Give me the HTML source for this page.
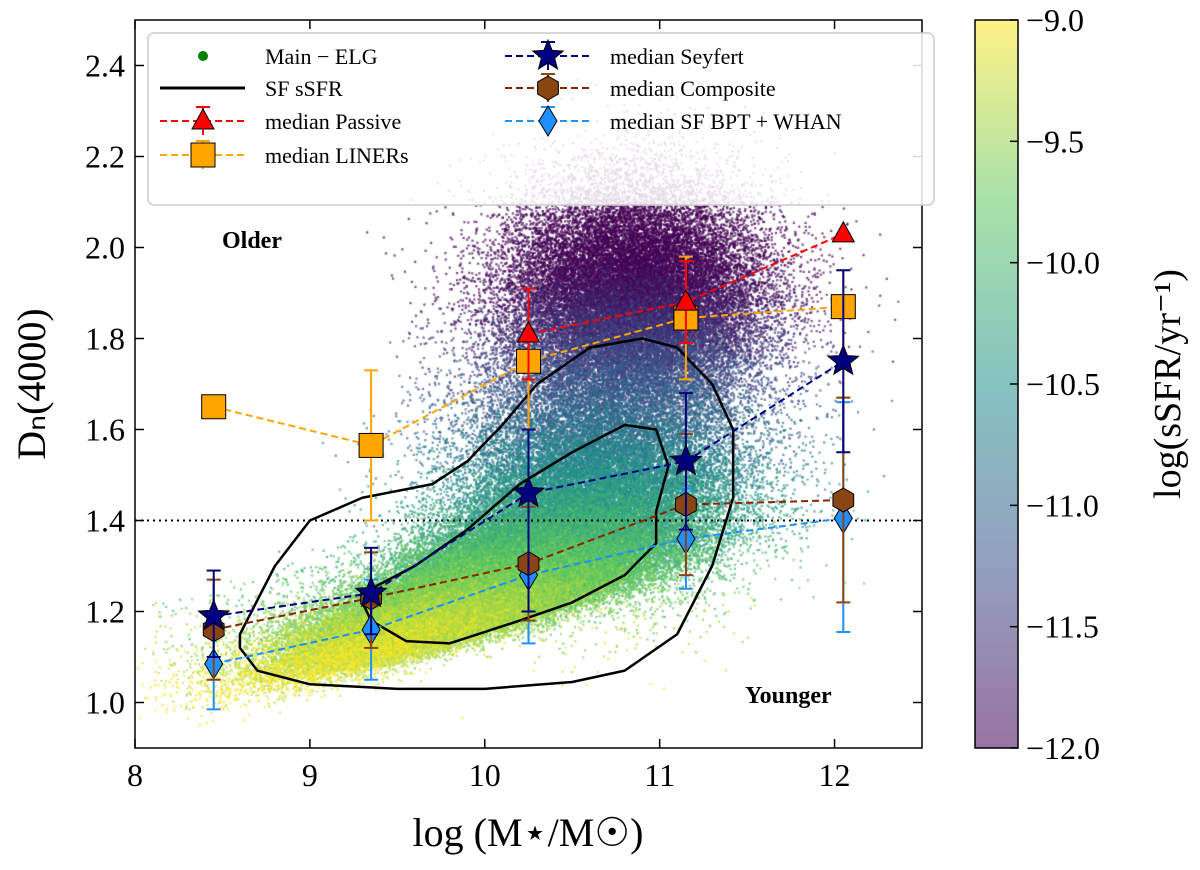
<!DOCTYPE html>
<html><head><meta charset="utf-8">
<style>
html,body{margin:0;padding:0;background:#fff;}
#wrap{position:relative;width:1200px;height:870px;font-family:"Liberation Serif",serif;}
canvas,svg{position:absolute;left:0;top:0;}
</style></head>
<body>
<div id="wrap">
<canvas id="cv" width="1200" height="870"></canvas>
<svg id="sv" width="1200" height="870"></svg>
</div>
<script>
const xs=[8.45,9.35,10.25,11.15,12.05];
const passiveX=[10.25,11.15,12.05];
const passiveY=[1.81,1.88,2.03];
const passiveLo=[1.71,1.79,2.03];
const passiveHi=[1.91,1.97,2.03];
const linerY=[1.65,1.565,1.75,1.845,1.87];
const linerLo=[1.65,1.40,1.60,1.71,1.67];
const linerHi=[1.65,1.73,1.91,1.98,1.95];
const seyY=[1.19,1.24,1.46,1.53,1.75];
const seyLo=[1.10,1.15,1.20,1.38,1.55];
const seyHi=[1.29,1.34,1.60,1.68,1.95];
const compY=[1.16,1.23,1.305,1.435,1.445];
const compLo=[1.05,1.12,1.18,1.28,1.22];
const compHi=[1.27,1.33,1.43,1.59,1.67];
const sfY=[1.085,1.16,1.28,1.36,1.405];
const sfLo=[0.985,1.05,1.13,1.25,1.155];
const sfHi=[1.19,1.27,1.43,1.47,1.66];
const xTicks=[8,9,10,11,12];
const yTicks=[1.0,1.2,1.4,1.6,1.8,2.0,2.2,2.4];
const cTicks=[-9.0,-9.5,-10.0,-10.5,-11.0,-11.5,-12.0];
const outerC=[[8.6,1.15],[8.8,1.3],[9.0,1.4],[9.3,1.45],[9.7,1.48],[9.9,1.53],[10.1,1.61],[10.3,1.7],[10.6,1.78],[10.9,1.80],[11.1,1.78],[11.3,1.70],[11.42,1.6],[11.42,1.45],[11.3,1.3],[11.1,1.15],[10.8,1.07],[10.5,1.045],[10,1.03],[9.5,1.03],[9,1.04],[8.7,1.07],[8.6,1.12]];
const innerC=[[9.3,1.24],[9.6,1.30],[9.9,1.38],[10.2,1.48],[10.5,1.55],[10.8,1.61],[10.98,1.60],[11.05,1.52],[10.98,1.42],[10.98,1.35],[10.8,1.28],[10.5,1.22],[10.2,1.18],[9.8,1.13],[9.55,1.135],[9.35,1.18],[9.3,1.22]];

const L=135,R=922,T=20,B=748;
const X=v=>L+(v-8)/(12.5-8)*(R-L);
const Y=v=>B-(v-0.9)/(2.5-0.9)*(B-T);
const NS='http://www.w3.org/2000/svg';
const sv=document.getElementById('sv');
function el(t,a,p){const e=document.createElementNS(NS,t);for(const k in a)e.setAttribute(k,a[k]);(p||sv).appendChild(e);return e;}
function vir(t){const s=[[68,1,84],[59,82,139],[33,145,140],[94,201,98],[253,231,37]];t=Math.max(0,Math.min(1,t))*4;const i=Math.min(3,Math.floor(t)),f=t-i;return s[i].map((c,j)=>Math.round(c+(s[i+1][j]-c)*f));}

const cv=document.getElementById('cv').getContext('2d');
let seed=7;function rnd(){seed=(seed*16807)%2147483647;return seed/2147483647;}
function gau(){return Math.sqrt(-2*Math.log(rnd()+1e-9))*Math.cos(2*Math.PI*rnd());}
cv.save();cv.beginPath();cv.rect(L,T,R-L,B-T);cv.clip();
const pts=[];
for(let i=0;i<110000;i++){
 let x,y,r=rnd();
 if(r<0.55){x=10.0+gau()*0.55;y=0.99+0.11*Math.max(0,x-8.3)+Math.abs(gau())*0.07*(1+0.7*Math.max(0,x-9.3))+gau()*0.025;}
 else if(r<0.72){x=10.65+gau()*0.42;y=1.5+gau()*0.13;}
 else{x=10.85+gau()*0.38;y=1.88+gau()*0.13;}
 if(rnd()<0.01){x=8.1+rnd()*3.8;const base=0.98+0.1*Math.max(0,x-8.3);y=base+rnd()*(0.25+0.2*Math.max(0,x-9));}
 const s=-9.0-(y-1.0)*3.3+gau()*0.2;
 pts.push([x,y,s]);
}
pts.sort((a,b)=>a[2]-b[2]);
pts.forEach(p=>{const c=vir((p[2]+12)/3);cv.fillStyle=`rgba(${c[0]},${c[1]},${c[2]},0.7)`;cv.fillRect(X(p[0])-1,Y(p[1])-1,2.2,2.2);});
cv.restore();
for(let py=20;py<748;py++){const c=vir((748-py)/728);cv.fillStyle=`rgba(${c[0]},${c[1]},${c[2]},0.55)`;cv.fillRect(975,py,43,1);}

el('line',{x1:L,x2:R,y1:Y(1.4),y2:Y(1.4),stroke:'#000','stroke-width':2,'stroke-dasharray':'2,4',});
function poly(pts,name){el('polygon',{points:pts.map(p=>X(p[0])+','+Y(p[1])).join(' '),fill:'none',stroke:'#000','stroke-width':2.5,'stroke-linejoin':'round',});}
poly(outerC,'contour-outer');poly(innerC,'contour-inner');

function marker(type,cx,cy,fill,g){
 if(type==='tri')el('polygon',{points:`${cx},${cy-12} ${cx-11},${cy+8} ${cx+11},${cy+8}`,fill,stroke:'#000','stroke-width':1},g);
 else if(type==='sq')el('rect',{x:cx-12,y:cy-12,width:24,height:24,fill,stroke:'#000','stroke-width':1},g);
 else if(type==='star'){let p=[];for(let k=0;k<10;k++){const r=k%2?7:16,a=-Math.PI/2+k*Math.PI/5;p.push((cx+r*Math.cos(a))+','+(cy+r*Math.sin(a)));}el('polygon',{points:p.join(' '),fill,stroke:'#000','stroke-width':1},g);}
 else if(type==='hex'){let p=[];for(let k=0;k<6;k++){const a=-Math.PI/2+k*Math.PI/3;p.push((cx+12*Math.cos(a))+','+(cy+12*Math.sin(a)));}el('polygon',{points:p.join(' '),fill,stroke:'#000','stroke-width':1},g);}
 else if(type==='dia')el('polygon',{points:`${cx},${cy-15} ${cx+9},${cy} ${cx},${cy+15} ${cx-9},${cy}`,fill,stroke:'#000','stroke-width':1},g);
}
function series(name,xv,yv,lo,hi,col,ecol,mk,mfill){
 const g=el('g',{});
 el('polyline',{points:xv.map((x,i)=>X(x)+','+Y(yv[i])).join(' '),fill:'none',stroke:col,'stroke-width':2,'stroke-dasharray':'7,4'},g);
 xv.forEach((x,i)=>{const cx=X(x);
  el('line',{x1:cx,x2:cx,y1:Y(lo[i]),y2:Y(hi[i]),stroke:ecol,'stroke-width':2},g);
  [lo[i],hi[i]].forEach(v=>el('line',{x1:cx-7,x2:cx+7,y1:Y(v),y2:Y(v),stroke:ecol,'stroke-width':2},g));
 });
 xv.forEach((x,i)=>marker(mk,X(x),Y(yv[i]),mfill,g));
}
series('series-liners',xs,linerY,linerLo,linerHi,'#ffa500','#ffa500','sq','#ffa500');
series('series-passive',passiveX,passiveY,passiveLo,passiveHi,'#ff0000','#ff0000','tri','#ff0000');
series('series-sf',xs,sfY,sfLo,sfHi,'#1e90ff','#1e90ff','dia','#1e90ff');
series('series-composite',xs,compY,compLo,compHi,'#8b2500','#8b4513','hex','#8b4513');
series('series-seyfert',xs,seyY,seyLo,seyHi,'#000080','#000080','star','#000080');

el('rect',{x:L,y:T,width:R-L,height:B-T,fill:'none',stroke:'#000','stroke-width':1.5,});
xTicks.forEach(v=>{const x=X(v);el('line',{x1:x,x2:x,y1:B,y2:B-9,stroke:'#000','stroke-width':1.5});el('line',{x1:x,x2:x,y1:T,y2:T+9,stroke:'#000','stroke-width':1.5});
 const t=el('text',{x:x,y:B+38,'font-size':32,'text-anchor':'middle','font-family':'Liberation Serif, serif',});t.textContent=v;});
yTicks.forEach(v=>{const y=Y(v);el('line',{x1:L,x2:L+9,y1:y,y2:y,stroke:'#000','stroke-width':1.5});el('line',{x1:R,x2:R-9,y1:y,y2:y,stroke:'#000','stroke-width':1.5});
 const t=el('text',{x:L-10,y:y+11,'font-size':32,'text-anchor':'end','font-family':'Liberation Serif, serif',});t.textContent=v.toFixed(1);});
let t=el('text',{x:528,y:846,'font-size':40,'text-anchor':'middle','font-family':'Liberation Serif, serif',});t.textContent='log (M⋆/M☉)';
t=el('text',{x:0,y:0,'font-size':40,'text-anchor':'middle','font-family':'Liberation Serif, serif',transform:'translate(45,384) rotate(-90)',});t.textContent='Dₙ(4000)';
t=el('text',{x:222,y:248,'font-size':24,'font-weight':'bold','font-family':'Liberation Serif, serif',});t.textContent='Older';
t=el('text',{x:745,y:703,'font-size':24,'font-weight':'bold','font-family':'Liberation Serif, serif',});t.textContent='Younger';

const lg=el('g',{});
el('rect',{x:148,y:33,width:786,height:172,rx:6,fill:'rgba(255,255,255,0.85)',stroke:'#ccc','stroke-width':1.5},lg);
const ent=[[160,56,'dot','#008000','Main − ELG',null],[160,88,'line','#000','SF sSFR',null],[160,121,'tri','#ff0000','median Passive','#ff0000'],[160,155,'sq','#ffa500','median LINERs','#ffa500'],
 [505,56,'star','#000080','median Seyfert','#000080'],[505,88,'hex','#8b4513','median Composite','#8b2500'],[505,121,'dia','#1e90ff','median SF BPT + WHAN','#1e90ff']];
ent.forEach(e=>{const g=el('g',{},lg);const[x,y,m,c,lab,lc]=e;
 if(m==='dot')el('circle',{cx:x+43,cy:y,r:5,fill:c},g);
 else if(m==='line')el('line',{x1:x,x2:x+85,y1:y,y2:y,stroke:'#000','stroke-width':3},g);
 else{el('line',{x1:x,x2:x+85,y1:y,y2:y,stroke:lc,'stroke-width':2,'stroke-dasharray':'7,4'},g);el('line',{x1:x+43,x2:x+43,y1:y-14,y2:y+14,stroke:c,'stroke-width':2},g);el('line',{x1:x+36,x2:x+50,y1:y-14,y2:y-14,stroke:c,'stroke-width':2},g);marker(m,x+43,y,c,g);}
 const tt=el('text',{x:x+105,y:y+8,'font-size':22,'font-family':'Liberation Serif, serif'},g);tt.textContent=lab;});

el('rect',{x:975,y:20,width:43,height:728,fill:'none',stroke:'#000','stroke-width':1.5,});
cTicks.forEach(v=>{const y=748-(v+12)/3*728;el('line',{x1:1018,x2:1010,y1:y,y2:y,stroke:'#000','stroke-width':1.5});
 const tt=el('text',{x:1026,y:y+11,'font-size':32,'font-family':'Liberation Serif, serif',});tt.textContent=(v<0?'−':'')+Math.abs(v).toFixed(1);});
t=el('text',{x:0,y:0,'font-size':38,'text-anchor':'middle','font-family':'Liberation Serif, serif',transform:'translate(1180,384) rotate(-90)',});t.textContent='log(sSFR/yr⁻¹)';
</script>
</body></html>
